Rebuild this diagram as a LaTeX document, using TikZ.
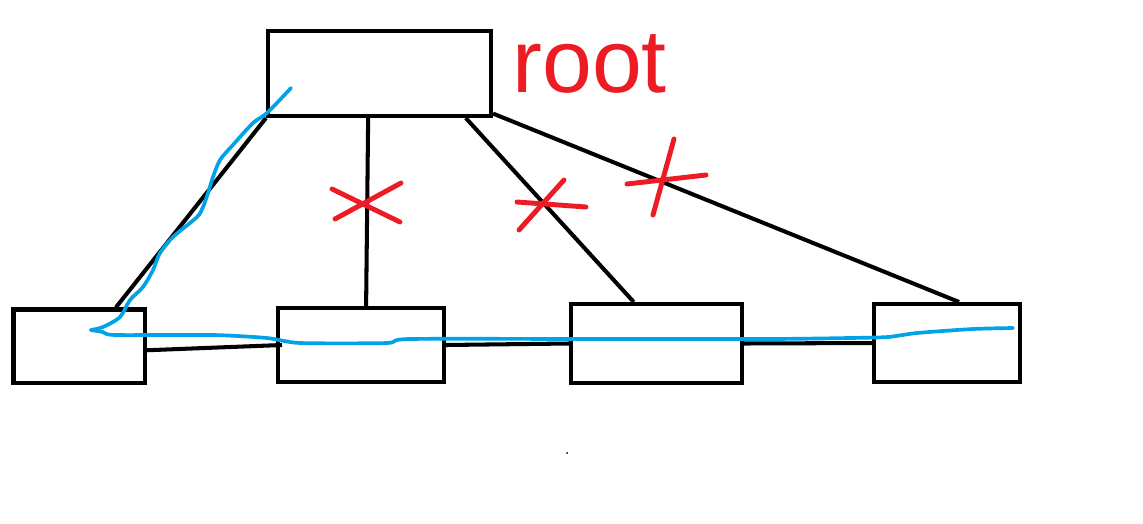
\documentclass[tikz,border=0pt]{standalone}
\usepackage{fontspec}
\setmainfont{Liberation Sans}
\usetikzlibrary{calc}
\definecolor{paintred}{HTML}{ED1C24}
\definecolor{paintblue}{HTML}{00A2E8}
\begin{document}
\begin{tikzpicture}[x=0.02cm,y=-0.02cm,
  boxnode/.style 2 args={draw=black, line width=2.3pt, rectangle, inner sep=0pt,
     minimum width=#1*0.02cm, minimum height=#2*0.02cm},
  link/.style={draw=black, line width=2.3pt},
  cross/.style={draw=paintred, line width=2.8pt, line cap=round},
  trace/.style={draw=paintblue, line width=2.1pt, line cap=round, line join=round}]
\useasboundingbox[fill=white] (0,0) rectangle (1143,524);

% boxes
\node[boxnode={223}{85}] (root) at (379.5,73.5) {};
\node[boxnode={131.5}{73.5}] (b1) at (79.25,346.25) {};
\node[boxnode={166}{74}] (b2) at (361,345) {};
\node[boxnode={171}{79}] (b3) at (656.5,343.5) {};
\node[boxnode={146}{78}] (b4) at (947,343) {};

% label
\node[anchor=base west, text=paintred, font=\fontsize{51}{51}\selectfont, inner sep=0pt] (rootlabel) at (512,92) {root};

% connectors from root
\draw[link] (root.south west) -- ($(b1.north west)!0.77!(b1.north east)$);
\draw[link] ($(root.south west)!0.45!(root.south east)$) -- ($(b2.north west)!0.53!(b2.north east)$);
\draw[link] ($(root.south west)!0.88!(root.south east)$) -- ($(b3.north west)!0.37!(b3.north east)$);
\draw[link] ($(root.south east)!0.05!(root.north east)$) -- ($(b4.north west)!0.58!(b4.north east)$);

% horizontal connectors
\draw[link] ($(b1.east)+(0,4)$) -- ($(b2.west)+(6,0)$);
\draw[link] (b2.east) -- (b3.west);
\draw[link] (b3.east) -- ($(b4.west)+(4,0)$);

% red crosses
\draw[cross] (332,189) -- (400,222);
\draw[cross] (335,219) -- (401,183);
\draw[cross] (517,202) -- (586,207);
\draw[cross] (519,230) -- (564,180);
\draw[cross] (627,184) -- (706,175);
\draw[cross] (674,139) -- (653,215);

% blue trace
\draw[trace] plot[smooth, tension=0.5] coordinates {(291,88) (267,113) (253,123) (232,146) (220,160) (213,177) (208,193) (203,207) (197,217) (173,237) (160,253) (153,270) (143,287) (130,300) (120,317) (103,327) (91,330)};
\draw[trace] plot[smooth, tension=0.4] coordinates {(91,330) (103,332) (115,335) (213,335) (267,338) (300,343) (387,343) (410,339) (590,339) (770,339) (850,338) (888,337) (917,333) (973,329) (1013,328)};

% stray dot
\fill[black] (567,453) circle[radius=1];
\end{tikzpicture}
\end{document}
